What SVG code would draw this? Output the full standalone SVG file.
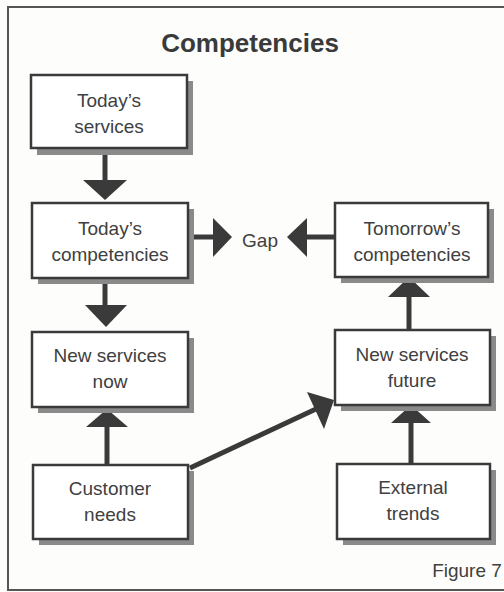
<svg xmlns="http://www.w3.org/2000/svg" width="504" height="592" viewBox="0 0 504 592">
<style>
.bg{fill:#fdfdfb}
.box{fill:#fff;stroke:#3a3a3a;stroke-width:2.5}
.sh{fill:#8a8a8a}
.t{font-family:"Liberation Sans",Arial,sans-serif;font-size:19px;fill:#404040;text-anchor:middle}
.ttl{font-family:"Liberation Sans",Arial,sans-serif;font-size:26px;font-weight:bold;fill:#3a3a3a;text-anchor:middle}
.ln{stroke:#3a3a3a;stroke-width:5;fill:none}
.hd{fill:#3a3a3a}
</style>
<rect class="bg" x="0" y="0" width="504" height="592"/>
<path d="M504 7 H8 V590 H504" fill="none" stroke="#555" stroke-width="2"/>
<text class="ttl" x="250" y="52">Competencies</text>

<g id="connectors">
  <line class="ln" x1="105" y1="149" x2="105" y2="182"/>
  <polygon class="hd" points="83,180 127,180 105,200"/>
  <line class="ln" x1="188" y1="237" x2="215" y2="237"/>
  <polygon class="hd" points="213,218 213,257 232,237"/>
  <line class="ln" x1="335" y1="237" x2="305" y2="237"/>
  <polygon class="hd" points="307,218 307,257 287,237"/>
  <line class="ln" x1="105" y1="278" x2="105" y2="307"/>
  <polygon class="hd" points="85,305 127,305 106,327"/>
  <line class="ln" x1="107" y1="465" x2="107" y2="425"/>
  <polygon class="hd" points="86,427 128,427 107,409"/>
  <line class="ln" x1="409" y1="330" x2="409" y2="295"/>
  <polygon class="hd" points="388,297 430,297 409,277"/>
  <line class="ln" x1="411" y1="464" x2="411" y2="421"/>
  <polygon class="hd" points="391,423 431,423 411,405"/>
  <line class="ln" x1="190" y1="468" x2="316" y2="409"/>
  <polygon class="hd" points="307,392 324,429 334,400"/>
</g>

<g id="todays-services">
  <rect class="sh" x="37" y="81" width="156" height="74"/>
  <rect class="box" x="31" y="75" width="156" height="73"/>
  <text class="t" x="109" y="107">Today’s</text>
  <text class="t" x="109" y="133">services</text>
</g>
<g id="todays-competencies">
  <rect class="sh" x="38" y="209" width="156" height="75"/>
  <rect class="box" x="32" y="203" width="156" height="75"/>
  <text class="t" x="110" y="235">Today’s</text>
  <text class="t" x="110" y="261">competencies</text>
</g>
<g id="gap">
  <text class="t" x="260" y="247">Gap</text>
</g>
<g id="tomorrows-competencies">
  <rect class="sh" x="341" y="209" width="153" height="74"/>
  <rect class="box" x="335" y="203" width="153" height="74"/>
  <text class="t" x="412" y="235">Tomorrow’s</text>
  <text class="t" x="412" y="261">competencies</text>
</g>
<g id="new-services-now">
  <rect class="sh" x="38" y="338" width="156" height="75"/>
  <rect class="box" x="32" y="332" width="156" height="75"/>
  <text class="t" x="110" y="362">New services</text>
  <text class="t" x="110" y="388">now</text>
</g>
<g id="new-services-future">
  <rect class="sh" x="341" y="336" width="155" height="75"/>
  <rect class="box" x="335" y="330" width="155" height="75"/>
  <text class="t" x="412" y="361">New services</text>
  <text class="t" x="412" y="387">future</text>
</g>
<g id="customer-needs">
  <rect class="sh" x="39" y="471" width="155" height="74"/>
  <rect class="box" x="33" y="465" width="155" height="74"/>
  <text class="t" x="110" y="495">Customer</text>
  <text class="t" x="110" y="521">needs</text>
</g>
<g id="external-trends">
  <rect class="sh" x="343" y="470" width="153" height="75"/>
  <rect class="box" x="337" y="464" width="153" height="75"/>
  <text class="t" x="413" y="494">External</text>
  <text class="t" x="413" y="520">trends</text>
</g>
<text class="t" x="467" y="577" style="font-size:19px">Figure 7</text>
</svg>
